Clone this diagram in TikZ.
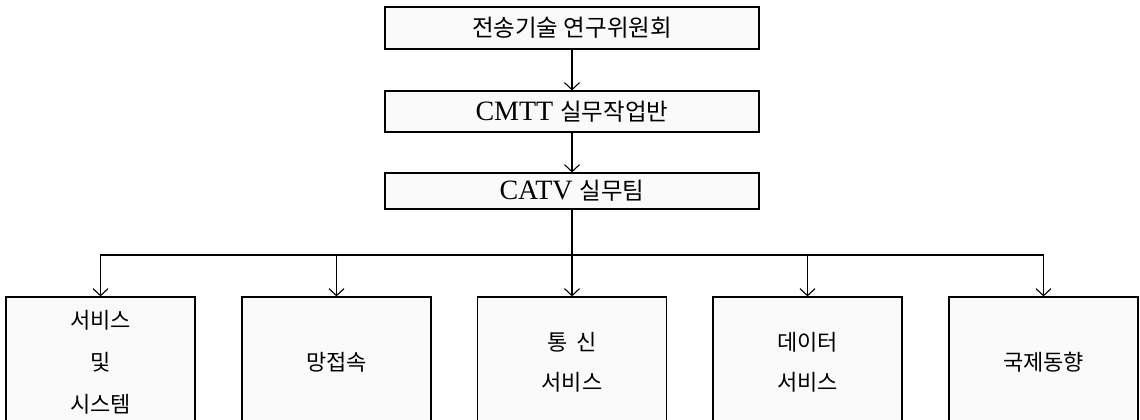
\documentclass[tikz,border=0pt]{standalone}
\usepackage{fontspec}
\setmainfont{Liberation Serif}
\newfontfamily\kr{Noto Sans CJK KR}
\usetikzlibrary{arrows.meta}
\begin{document}
\begin{tikzpicture}[x=1pt,y=-1pt,
  box/.style={draw=black, line width=1.2pt, fill=black!2, inner sep=0pt, minimum width=374pt},
  sub/.style={draw=black, line width=1.2pt, fill=black!2, inner sep=0pt, minimum width=189pt, minimum height=130pt,
    align=center, font=\kr\fontsize{22}{42}\selectfont},
  arr/.style={line width=1.1pt, -{Straight Barb[length=7pt,width=15pt,line width=1.1pt]}},
  conn/.style={line width=1.1pt}]
\useasboundingbox (0,0) rectangle (1140,420);
\node[box, minimum height=42pt] (t1) at (572,28) {\kr\fontsize{23.5}{26}\selectfont 전송기술 연구위원회};
\node[box, minimum height=41pt] (t2) at (572,111.5) {\fontsize{28}{30}\selectfont CMTT {\kr\fontsize{23.5}{26}\selectfont 실무작업반}};
\node[box, minimum height=36pt] (t3) at (572,191) {\fontsize{28}{30}\selectfont CATV {\kr\fontsize{23.5}{26}\selectfont 실무팀}};
\coordinate (bus) at (572,255);
\node[sub] (b1) at (100.5,362) {서비스\\및\\시스템};
\node[sub] (b2) at (336.5,362) {망접속};
\node[sub] (b3) at (572,362) {통\hspace{0.4em}신\\[-2pt]서비스};
\node[sub] (b4) at (807.5,362) {데이터\\[-2pt]서비스};
\node[sub] (b5) at (1043.5,362) {국제동향};
\draw[arr] (t1.south) -- (t2.north);
\draw[arr] (t2.south) -- (t3.north);
\draw[conn] (t3.south) -- (bus);
\draw[arr] (bus) -| (b1.north);
\draw[arr] (bus) -| (b2.north);
\draw[arr] (bus) -- (b3.north);
\draw[arr] (bus) -| (b4.north);
\draw[arr] (bus) -| (b5.north);
\end{tikzpicture}
\end{document}
